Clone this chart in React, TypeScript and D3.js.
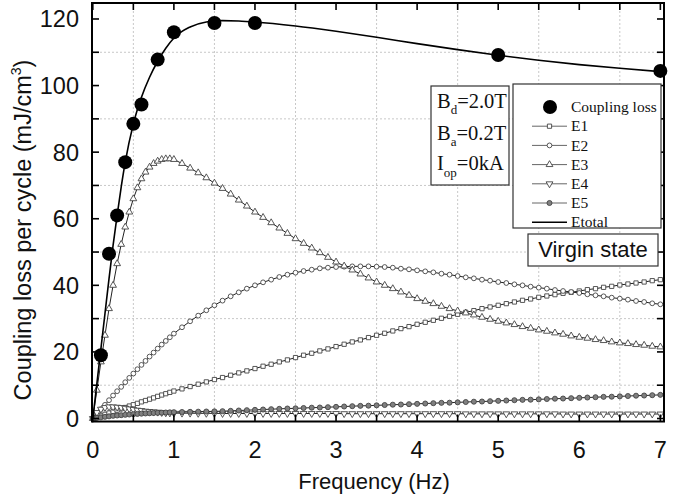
import React from 'react';
import * as d3 from 'd3';

// frequency grid of the computed series (Hz)
const freq = [
  0, 0.05, 0.1, 0.15, 0.2, 0.25, 0.3, 0.35, 0.4, 0.45, 0.5, 0.55, 0.6, 0.65, 0.7, 0.75, 0.8, 0.85, 0.9, 0.95, 1.0,
  1.1, 1.2, 1.3, 1.4, 1.5, 1.6, 1.7, 1.8, 1.9, 2.0,
  2.1, 2.2, 2.3, 2.4, 2.5, 2.6, 2.7, 2.8, 2.9, 3.0,
  3.1, 3.2, 3.3, 3.4, 3.5, 3.6, 3.7, 3.8, 3.9, 4.0,
  4.1, 4.2, 4.3, 4.4, 4.5, 4.6, 4.7, 4.8, 4.9, 5.0,
  5.1, 5.2, 5.3, 5.4, 5.5, 5.6, 5.7, 5.8, 5.9, 6.0,
  6.1, 6.2, 6.3, 6.4, 6.5, 6.6, 6.7, 6.8, 6.9, 7.0,
];

const e1 = [
  0, 0.4, 0.8, 1.25, 1.65, 2.05, 2.5, 2.9, 3.3, 3.75, 4.15, 4.55, 5.0, 5.4, 5.8, 6.2, 6.65, 7.05, 7.45, 7.85, 8.25,
  8.9, 9.6, 10.3, 11.0, 11.7, 12.3, 13.0, 13.7, 14.3, 15.0,
  15.7, 16.3, 17.0, 17.6, 18.3, 19.0, 19.6, 20.3, 20.9, 21.6,
  22.3, 23.0, 23.6, 24.3, 25.0, 25.6, 26.3, 27.0, 27.6, 28.3,
  28.9, 29.5, 30.1, 30.7, 31.3, 31.9, 32.4, 33.0, 33.5, 34.0,
  34.5, 35.0, 35.5, 35.9, 36.4, 36.8, 37.2, 37.6, 37.9, 38.3,
  38.7, 39.0, 39.4, 39.7, 40.1, 40.4, 40.7, 41.0, 41.4, 41.7,
];

const e2 = [
  0, 1.4, 2.8, 4.1, 5.5, 6.9, 8.2, 9.5, 10.9, 12.2, 13.5, 14.8, 16.1, 17.3, 18.6, 19.8, 21.0, 22.2, 23.3, 24.4, 25.5,
  27.4, 29.2, 30.9, 32.5, 34.0, 35.4, 36.7, 37.9, 39.0, 40.0,
  40.9, 41.7, 42.5, 43.2, 43.8, 44.3, 44.7, 45.1, 45.3, 45.5,
  45.6, 45.7, 45.7, 45.7, 45.6, 45.5, 45.3, 45.0, 44.8, 44.5,
  44.2, 43.9, 43.5, 43.2, 42.8, 42.4, 42.1, 41.7, 41.4, 41.0,
  40.7, 40.3, 40.0, 39.6, 39.3, 39.0, 38.6, 38.3, 38.0, 37.7,
  37.3, 37.0, 36.7, 36.3, 36.0, 35.7, 35.3, 35.0, 34.6, 34.3,
];

const e3 = [
  0, 8.5, 17, 25, 33, 40, 46.5, 52.3, 57.5, 62, 66, 69.3, 72, 74, 75.5, 76.6, 77.3, 77.8, 78.0, 78.0, 77.8,
  76.6, 75.2, 73.8, 72.3, 70.7, 69.1, 67.4, 65.6, 63.8, 62.0,
  60.4, 58.8, 57.2, 55.6, 54.0, 52.6, 51.2, 49.8, 48.4, 47.0,
  45.8, 44.6, 43.4, 42.2, 41.0, 40.0, 39.0, 38.0, 37.0, 36.0,
  35.2, 34.5, 33.7, 33.0, 32.3, 31.7, 31.1, 30.4, 29.8, 29.2,
  28.7, 28.2, 27.6, 27.1, 26.6, 26.2, 25.7, 25.3, 24.8, 24.4,
  24.1, 23.7, 23.4, 23.0, 22.7, 22.5, 22.2, 22.0, 21.7, 21.5,
];

const e4 = [
  0, 1.8, 2.8, 3.3, 3.5, 3.5, 3.4, 3.3, 3.1, 2.9, 2.7, 2.5, 2.4, 2.2, 2.1, 2.0, 1.9, 1.8, 1.7, 1.65, 1.6,
  1.6, 1.6, 1.55, 1.55, 1.55, 1.5, 1.5, 1.5, 1.5, 1.5,
  1.5, 1.5, 1.5, 1.5, 1.5, 1.5, 1.5, 1.5, 1.5, 1.5,
  1.45, 1.45, 1.45, 1.45, 1.45, 1.45, 1.45, 1.45, 1.45, 1.45,
  1.45, 1.45, 1.45, 1.45, 1.45, 1.4, 1.4, 1.4, 1.4, 1.4,
  1.4, 1.4, 1.4, 1.4, 1.4, 1.4, 1.4, 1.35, 1.35, 1.35,
  1.35, 1.35, 1.35, 1.35, 1.35, 1.35, 1.35, 1.35, 1.35, 1.35,
];

const e5 = [
  0, 0.2, 0.35, 0.5, 0.65, 0.8, 0.9, 1.0, 1.1, 1.2, 1.3, 1.38, 1.45, 1.52, 1.58, 1.64, 1.7, 1.75, 1.8, 1.85, 1.9,
  1.95, 2.0, 2.05, 2.1, 2.15, 2.2, 2.3, 2.4, 2.5, 2.6,
  2.7, 2.8, 2.9, 3.0, 3.05, 3.15, 3.25, 3.3, 3.4, 3.5,
  3.6, 3.7, 3.8, 3.85, 3.95, 4.05, 4.15, 4.2, 4.3, 4.4,
  4.5, 4.6, 4.7, 4.75, 4.85, 4.95, 5.05, 5.1, 5.2, 5.3,
  5.4, 5.5, 5.6, 5.65, 5.75, 5.85, 5.95, 6.0, 6.1, 6.2,
  6.3, 6.4, 6.5, 6.55, 6.65, 6.75, 6.85, 6.9, 7.0, 7.1,
];

// total (solid line)
const totalFreq = [0, 0.05, 0.1, 0.15, 0.2, 0.25, 0.3, 0.35, 0.4, 0.5, 0.6, 0.7, 0.8, 0.9, 1.0, 1.2, 1.4, 1.6, 1.8, 2.0, 2.5, 3.0, 3.5, 4.0, 4.5, 5.0, 5.5, 6.0, 6.5, 7.0];
const totalVal = [0, 10.5, 21, 31.5, 42, 52, 61, 69.5, 77, 88.5, 96.5, 102.5, 107.3, 111.2, 114.3, 117.6, 119.1, 119.5, 119.4, 119.1, 117.9, 116.3, 114.5, 112.6, 110.8, 109.1, 107.6, 106.3, 105.2, 104.2];

// measured coupling loss
const measFreq = [0.1, 0.2, 0.3, 0.4, 0.5, 0.6, 0.8, 1.0, 1.5, 2.0, 5.0, 7.0];
const measVal = [19, 49.5, 61, 77, 88.5, 94.3, 107.8, 116, 118.8, 118.8, 109.2, 104.4];

const xLabels = [0, 1, 2, 3, 4, 5, 6, 7];
const yLabels = [0, 20, 40, 60, 80, 100, 120];
const xTicks = [0, 0.5, 1, 1.5, 2, 2.5, 3, 3.5, 4, 4.5, 5, 5.5, 6, 6.5, 7];
const yTicks = [0, 10, 20, 30, 40, 50, 60, 70, 80, 90, 100, 110, 120];
const xGrid = [0.5, 1.5, 2.5, 3.5, 4.5, 5.5, 6.5];
const yGrid = [10, 30, 50, 70, 90, 110];

const seriesNames = ['E1', 'E2', 'E3', 'E4', 'E5'];
const seriesValues = [e1, e2, e3, e4, e5];

const SANS = "'Liberation Sans', Arial, Helvetica, sans-serif";
const SERIF = "'Liberation Serif', 'Times New Roman', serif";

const markerStyle: Record<string, { shape: d3.SymbolType; size: number; rot: number; fill: string }> = {
  E1: { shape: d3.symbolSquare, size: 18, rot: 0, fill: '#fff' },
  E2: { shape: d3.symbolCircle, size: 18, rot: 0, fill: '#fff' },
  E3: { shape: d3.symbolTriangle, size: 20, rot: 0, fill: '#fff' },
  E4: { shape: d3.symbolTriangle, size: 20, rot: 180, fill: '#fff' },
  E5: { shape: d3.symbolCircle, size: 20, rot: 0, fill: '#808080' },
};

function Marker({ name, cx, cy }: { name: string; cx: number; cy: number }) {
  const m = markerStyle[name];
  const d = d3.symbol().type(m.shape).size(m.size)() as string;
  return (
    <path
      d={d}
      transform={`translate(${cx},${cy}) rotate(${m.rot})`}
      fill={m.fill}
      stroke="#444"
      strokeWidth={0.9}
    />
  );
}

export default function App() {
  const W = 695;
  const H = 494;
  const x = d3.scaleLinear().domain([-0.01, 7.045]).range([92, 664]);
  const y = d3.scaleLinear().domain([-0.9, 124.8]).range([421.5, 3]);
  const [x0, x1] = x.range();
  const [y0, y1] = y.range();

  const line = d3
    .line<number>()
    .x((_, i) => x(freq[i]))
    .y((v) => y(v));

  const totalLine = d3
    .line<number>()
    .x((_, i) => x(totalFreq[i]))
    .y((v) => y(v))
    .curve(d3.curveMonotoneX);

  const legendRows = ['Coupling loss', ...seriesNames, 'Etotal'];
  const lgX = 513;
  const lgY = 84;
  const rowY = (i: number) => lgY + 23 + i * 19.2;

  return (
    <svg width={W} height={H} style={{ position: 'absolute', left: 0, top: 0, background: '#fff' }}>
      <rect x={0} y={0} width={W} height={H} fill="#fff" />

      {/* grid */}
      <g stroke="#c8c8c8" strokeWidth={1} strokeDasharray="2,2">
        {xGrid.map((g) => (
          <line key={'gx' + g} x1={x(g)} x2={x(g)} y1={y1} y2={y0} />
        ))}
        {yGrid.map((g) => (
          <line key={'gy' + g} x1={x0} x2={x1} y1={y(g)} y2={y(g)} />
        ))}
      </g>

      {/* component series */}
      {seriesValues.map((vals, si) => (
        <g key={seriesNames[si]}>
          <path d={line(vals) as string} fill="none" stroke="#222" strokeWidth={1} />
          {vals.map((v, i) => (
            <Marker key={i} name={seriesNames[si]} cx={x(freq[i])} cy={y(v)} />
          ))}
        </g>
      ))}

      {/* total */}
      <path d={totalLine(totalVal) as string} fill="none" stroke="#000" strokeWidth={1.6} />

      {/* measured points */}
      {measVal.map((v, i) => (
        <circle key={'m' + i} cx={x(measFreq[i])} cy={y(v)} r={7} fill="#000" />
      ))}

      {/* frame */}
      <rect x={x0} y={y1} width={x1 - x0} height={y0 - y1} fill="none" stroke="#000" strokeWidth={2} />

      {/* ticks */}
      <g stroke="#000" strokeWidth={1.6}>
        {xTicks.map((t) => (
          <g key={'tx' + t}>
            <line x1={x(t)} x2={x(t)} y1={y0} y2={y0 - 7} />
            <line x1={x(t)} x2={x(t)} y1={y1} y2={y1 + 7} />
          </g>
        ))}
        {yTicks.map((t) => (
          <g key={'ty' + t}>
            <line x1={x0} x2={x0 + 7} y1={y(t)} y2={y(t)} />
            <line x1={x1} x2={x1 - 7} y1={y(t)} y2={y(t)} />
          </g>
        ))}
      </g>

      {/* tick labels */}
      <g fontFamily={SANS} fontSize={23.5} fill="#111">
        {xLabels.map((t) => (
          <text key={'lx' + t} x={x(t)} y={458} textAnchor="middle">
            {t}
          </text>
        ))}
        {yLabels.map((t) => (
          <text key={'ly' + t} x={x0 - 13} y={y(t)} dy="0.36em" textAnchor="end">
            {t}
          </text>
        ))}
      </g>

      {/* axis titles */}
      <text x={(x0 + x1) / 2 - 4} y={489} textAnchor="middle" fontFamily={SANS} fontSize={22} fill="#111">
        Frequency (Hz)
      </text>
      <text
        transform={`translate(31,230) rotate(-90)`}
        textAnchor="middle"
        fontFamily={SANS}
        fontSize={23.5}
        fill="#111"
      >
        Coupling loss per cycle (mJ/cm
        <tspan fontSize={14} dy={-10}>3</tspan>
        <tspan dy={10}>)</tspan>
      </text>

      {/* condition box */}
      <rect x={431} y={86} width={78} height={99} fill="#fff" stroke="#333" strokeWidth={1.2} />
      <g fontFamily={SERIF} fontSize={20.5} fill="#111">
        <text x={437} y={108}>
          B<tspan fontSize={13} dy={6}>d</tspan>
          <tspan dy={-6}>=2.0T</tspan>
        </text>
        <text x={437} y={140}>
          B<tspan fontSize={13} dy={6}>a</tspan>
          <tspan dy={-6}>=0.2T</tspan>
        </text>
        <text x={437} y={170}>
          I<tspan fontSize={13} dy={7}>op</tspan>
          <tspan dy={-7}>=0kA</tspan>
        </text>
      </g>

      {/* legend */}
      <rect x={lgX} y={lgY} width={148} height={144} fill="#fff" stroke="#333" strokeWidth={1.2} />
      {legendRows.map((name, i) => {
        const cy = rowY(i);
        return (
          <g key={'lg' + name}>
            {i === 0 ? (
              <circle cx={550} cy={cy} r={7} fill="#000" />
            ) : (
              <>
                <line
                  x1={532}
                  x2={567}
                  y1={cy}
                  y2={cy}
                  stroke={name === 'Etotal' ? '#000' : '#666'}
                  strokeWidth={name === 'Etotal' ? 1.6 : 1}
                />
                {name !== 'Etotal' && <Marker name={name} cx={549.5} cy={cy} />}
              </>
            )}
            <text x={571} y={cy} dy="0.33em" fontFamily={SERIF} fontSize={15.5} fill="#111">
              {name}
            </text>
          </g>
        );
      })}

      {/* state label */}
      <rect x={528} y={234} width={130} height={32} fill="#fff" stroke="#333" strokeWidth={1.2} />
      <text x={593} y={257} textAnchor="middle" fontFamily={SANS} fontSize={22} fill="#111">
        Virgin state
      </text>
    </svg>
  );
}
